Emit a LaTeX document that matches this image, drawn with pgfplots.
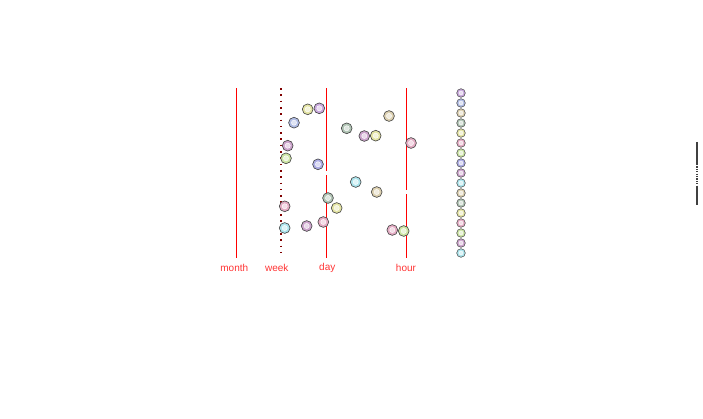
\documentclass[border=0pt]{standalone}
\usepackage{pgfplots}
\pgfplotsset{compat=1.18}
\usepackage{pgfplotstable}
\usepackage{fontspec}
\setmainfont{Liberation Sans}
\definecolor{cpur}{HTML}{C8A8DC}
\definecolor{cblu}{HTML}{B0BCE4}
\definecolor{ctan}{HTML}{DCD0B0}
\definecolor{cgg}{HTML}{B0C4B4}
\definecolor{cyel}{HTML}{E4E4A4}
\definecolor{cpnk}{HTML}{E4ACC4}
\definecolor{cgrn}{HTML}{CCE4A4}
\definecolor{cbp}{HTML}{ACACE4}
\definecolor{cmau}{HTML}{CCA4CC}
\definecolor{ccya}{HTML}{ACE4EC}
\definecolor{lblred}{HTML}{FF3333}
\definecolor{wkred}{HTML}{800000}
\pgfplotstableread{
x y c
307.7 109.3 yel
319.3 108.3 pur
389.0 116.0 tan
294.0 122.7 blu
346.7 128.3 gg
364.3 136.0 mau
375.7 135.7 yel
411.0 143.0 pnk
287.7 145.7 mau
286.0 158.3 grn
318.0 164.3 bp
355.7 182.0 cya
376.7 192.0 tan
328.0 198.0 gg
336.7 208.0 yel
284.7 206.3 pnk
323.3 222.0 pnk
306.7 226.0 mau
284.7 228.0 cya
392.3 230.0 pnk
403.7 231.0 grn
}\pts
\pgfplotstableread{
x y c
461 93 pur
461 103 blu
461 113 tan
461 123 gg
461 133 yel
461 143 pnk
461 153 grn
461 163 bp
461 173 mau
461 183 cya
461 193 tan
461 203 gg
461 213 yel
461 223 pnk
461 233 grn
461 243 mau
461 253 cya
}\legpts
\begin{document}
\begin{tikzpicture}[x=1pt,y=1pt]
\path (0,0) rectangle (703,418);
\begin{axis}[
  at={(215pt,156pt)}, anchor=south west,
  scale only axis, width=255pt, height=177pt,
  xmin=215, xmax=470, ymin=85, ymax=262,
  y dir=reverse,
  axis lines=none,
  clip=false,
  xtick=\empty, ytick=\empty,
  scatter/classes={
    pur={mark=*,fill=cpur,draw=black!75},
    blu={mark=*,fill=cblu,draw=black!75},
    tan={mark=*,fill=ctan,draw=black!75},
    gg={mark=*,fill=cgg,draw=black!75},
    yel={mark=*,fill=cyel,draw=black!75},
    pnk={mark=*,fill=cpnk,draw=black!75},
    grn={mark=*,fill=cgrn,draw=black!75},
    bp={mark=*,fill=cbp,draw=black!75},
    mau={mark=*,fill=cmau,draw=black!75},
    cya={mark=*,fill=ccya,draw=black!75}},
]
% reference lines
\addplot[red, line width=0.8pt] coordinates {(236.3,88) (236.3,258)};
\addplot[wkred, line width=1.8pt, dash pattern=on 1.6pt off 4.7pt] coordinates {(280.7,88) (280.7,258)};
\addplot[red, line width=0.9pt] coordinates {(326.3,88) (326.3,171)};
\addplot[red, line width=0.9pt] coordinates {(326.3,175) (326.3,258)};
\addplot[red, line width=1.1pt] coordinates {(406.3,88) (406.3,190)};
\addplot[red, line width=1.1pt] coordinates {(406.3,194) (406.3,258)};
% data points
\addplot[scatter, only marks, mark size=5.4pt, scatter src=explicit symbolic, mark options={line width=0.6pt}]
  table[x=x,y=y,meta=c]{\pts};
\addplot[only marks, mark=*, mark size=2.6pt, white, mark options={draw=none, fill opacity=0.6}]
  table[x=x,y=y]{\pts};
% legend column
\addplot[scatter, only marks, mark size=4.3pt, scatter src=explicit symbolic, mark options={line width=0.5pt}]
  table[x=x,y=y,meta=c]{\legpts};
\addplot[only marks, mark=*, mark size=2pt, white, mark options={draw=none, fill opacity=0.6}]
  table[x=x,y=y]{\legpts};
% labels
\node[text=lblred, font=\fontsize{10}{11}\selectfont] at (axis cs:234.3,268) {month};
\node[text=lblred, font=\fontsize{10}{11}\selectfont] at (axis cs:276.7,268) {week};
\node[text=lblred, font=\fontsize{10}{11}\selectfont] at (axis cs:327.3,268) {day};
\node[text=lblred, font=\fontsize{10}{11}\selectfont] at (axis cs:406.0,268) {hour};
\end{axis}
\draw[black!75, line width=1.3pt] (697,276) -- (697,254);
\draw[black!75, line width=1.3pt, dash pattern=on 1.2pt off 1.2pt] (697,254) -- (697,232);
\draw[black!75, line width=1.3pt] (697,232) -- (697,213);
\end{tikzpicture}
\end{document}
